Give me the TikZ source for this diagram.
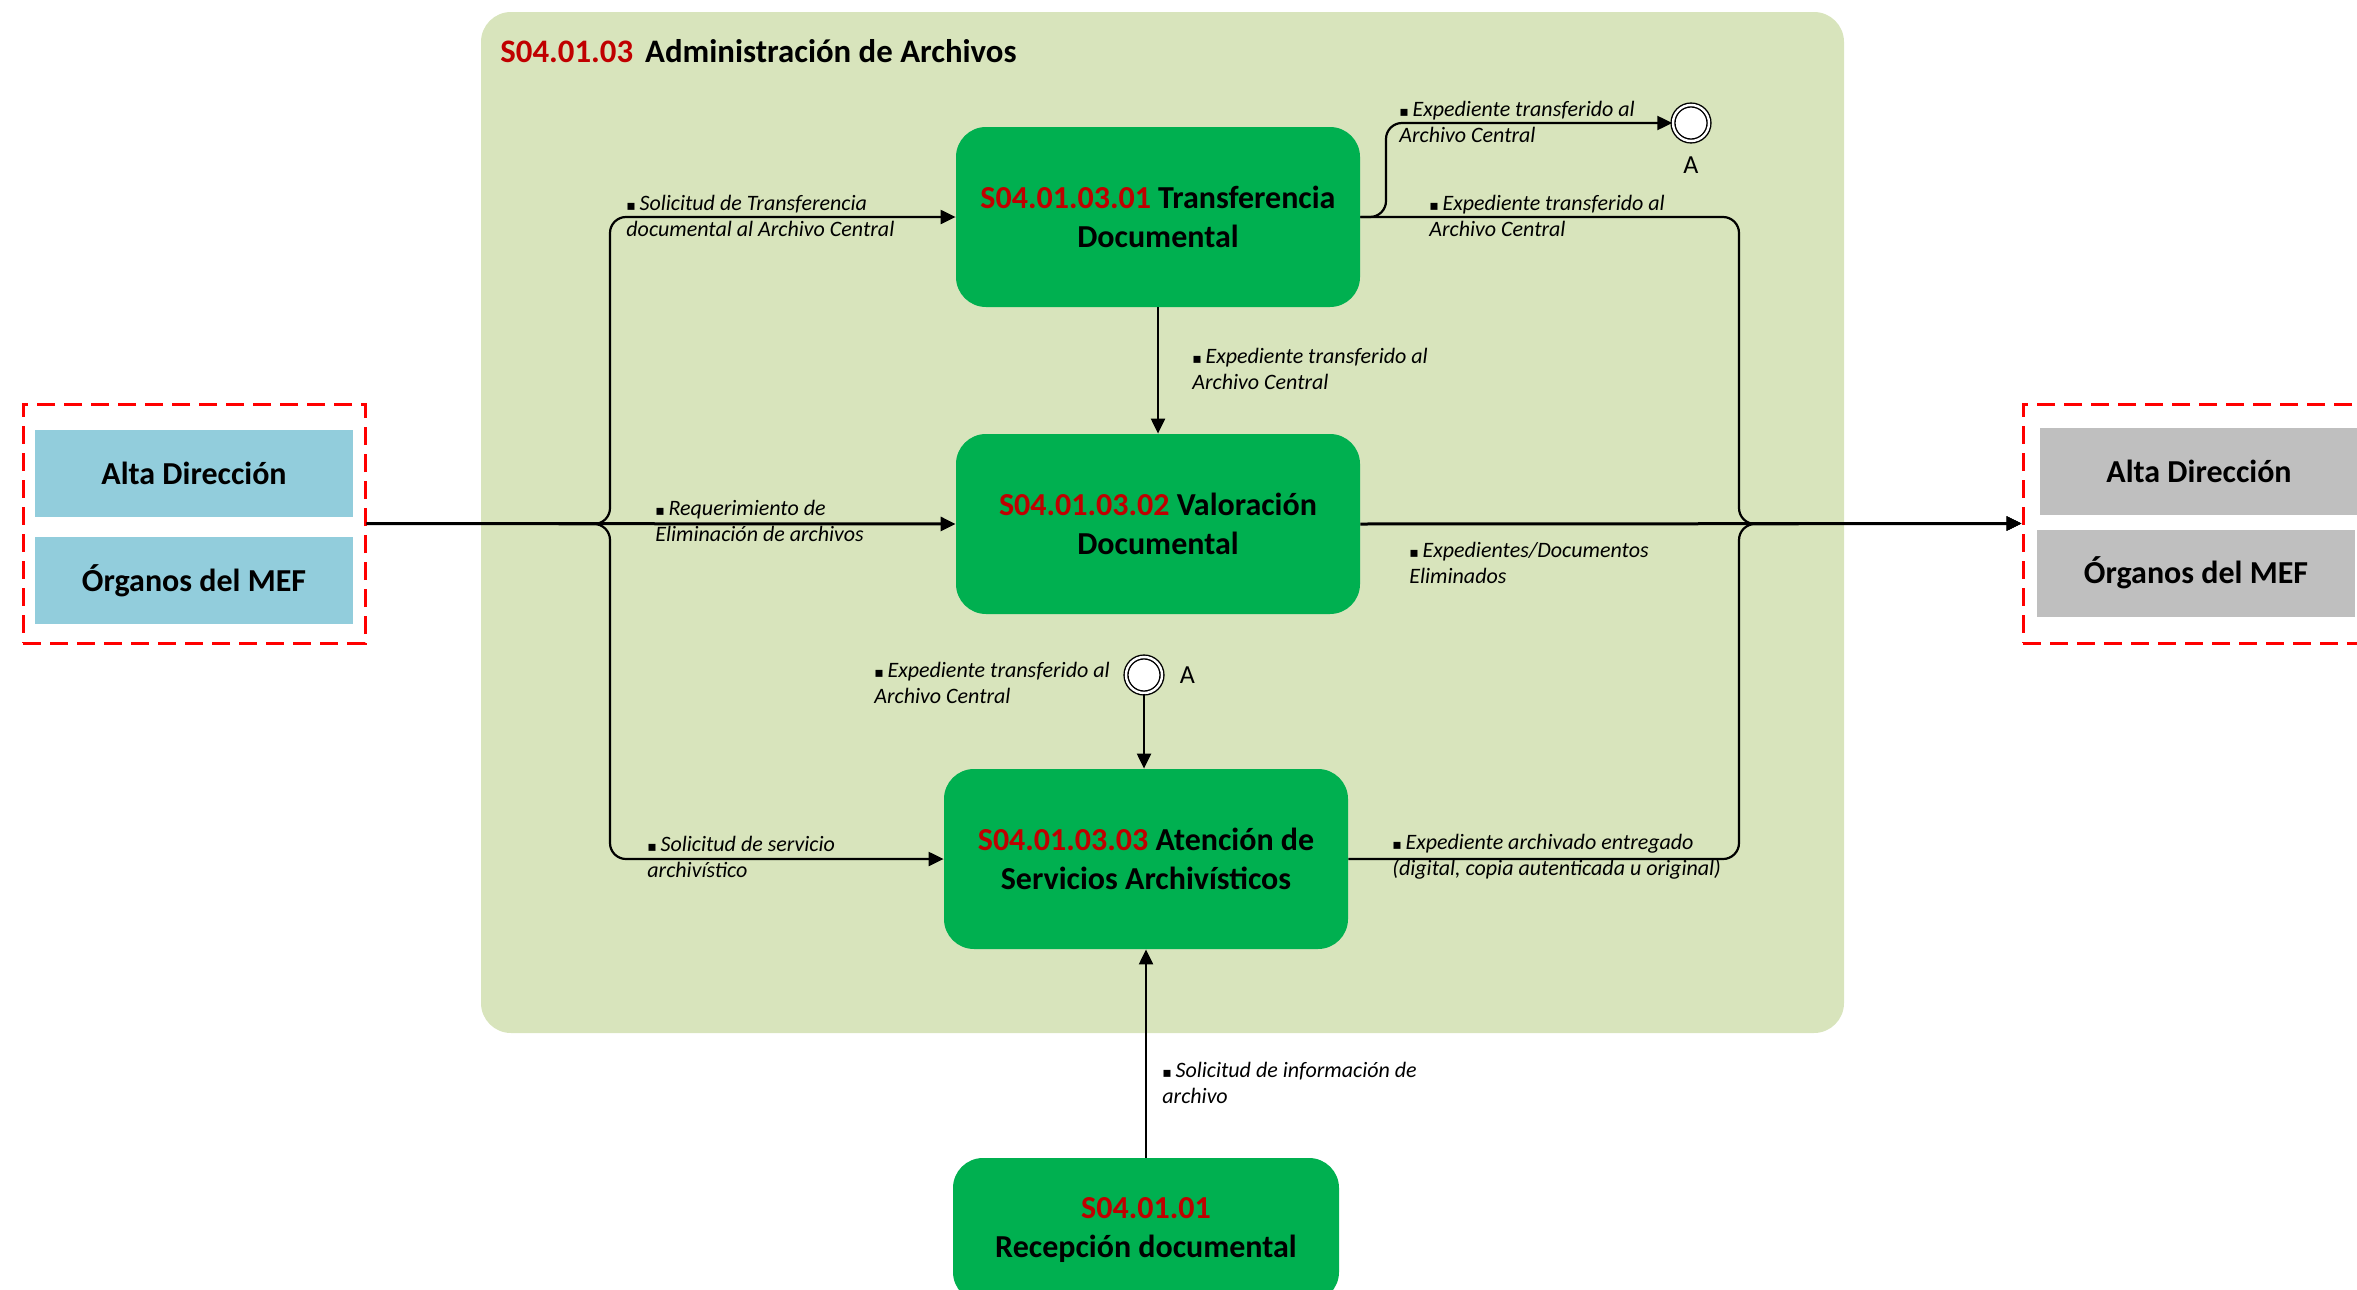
\documentclass[tikz,border=0pt]{standalone}
\usepackage{fontspec}
\setmainfont{Carlito}
\newfontfamily\symfont{DejaVu Sans}
\usetikzlibrary{arrows.meta,positioning,backgrounds}

\definecolor{procgreen}{HTML}{00B050}
\definecolor{areagreen}{HTML}{D8E4BC}
\definecolor{codered}{HTML}{C00000}
\definecolor{extblue}{HTML}{92CDDC}
\definecolor{extgray}{HTML}{BFBFBF}
\newcommand{\bul}{{\symfont\fontsize{7}{7}\selectfont ▪}\,}
\newcommand{\code}[1]{{\color{codered}#1}}

\begin{document}
\begin{tikzpicture}[
    x=0.5pt, y=-0.5pt,
    % process boxes
    proc/.style={
        rectangle,
        rounded corners=15pt,
        fill=procgreen,
        minimum width=202pt,
        minimum height=90pt,
        align=center,
        font=\fontsize{16}{19.5}\selectfont\bfseries
    },
    actor/.style={
        rectangle,
        minimum width=159pt,
        minimum height=43.5pt,
        font=\fontsize{16}{19}\selectfont\bfseries
    },
    extbox/.style={
        rectangle,
        draw=red,
        line width=1.5pt,
        dash pattern=on 9pt off 4.5pt,
        minimum width=171pt,
        minimum height=119.5pt
    },
    lbl/.style={
        anchor=west,
        align=left,
        inner sep=0pt,
        font=\fontsize{11}{13}\selectfont\itshape
    },
    link/.style={
        circle,
        draw,
        double,
        double distance=1.2pt,
        line width=0.7pt,
        fill=white,
        minimum size=18pt,
        inner sep=0pt
    },
    flow/.style={
        -{Triangle[length=7.5pt,width=7pt]},
        line width=1.1pt,
        rounded corners=8pt
    },
    mainflow/.style={
        flow,
        line width=1.5pt
    }
]
    \useasboundingbox (0,0) rectangle (2357,1290);
    \clip (0,0) rectangle (2357,1290);

    % Process area
    \node[lbl, font=\fontsize{16.4}{19}\selectfont\bfseries] (title) at (500,51)
        {\code{S04.01.03}\hspace{6pt}Administración de Archivos};

    % Processes
    \node[proc] (trans) at (1158,217) {\code{S04.01.03.01} Transferencia\\Documental};
    \node[proc] (valor) at (1158,524) {\code{S04.01.03.02} Valoración\\Documental};
    \node[proc] (atenc) at (1146,859) {\code{S04.01.03.03} Atención de\\Servicios Archivísticos};
    \node[proc, minimum width=193pt, minimum height=72pt] (recep) at (1146,1230)
        {\code{S04.01.01}\\Recepción documental};

    % Clients and receivers
    \node[extbox] (lft) at (194,523.5) {};
    \node[actor, fill=extblue] (lalta) at (194,473.5) {Alta Dirección};
    \node[actor, fill=extblue] (lorg) at (194,580.5) {Órganos del MEF};
    \node[extbox] (rgt) at (2194,523.5) {};
    \node[actor, fill=extgray] (ralta) at (2199,471.5) {Alta Dirección};
    \node[actor, fill=extgray] (rorg) at (2196,573) {Órganos del MEF};

    % Off-page links
    \node[link] (linkT) at (1691,123) {};
    \node[font=\fontsize{13}{15}\selectfont, below=4pt of linkT] (linkTname) {A};
    \node[link] (linkA) at (1144,675) {};
    \node[font=\fontsize{13}{15}\selectfont, right=5pt of linkA] (linkAname) {A};

    \begin{scope}[on background layer]
        \fill[areagreen, rounded corners=15pt] (481,12) rectangle (1844,1033);
    \end{scope}

    % Inputs
    \coordinate (split) at (610,524);
    \draw[mainflow] (lft.east) -- (valor.west);
    \draw[flow] (lft.east) -- (split) |- (trans.west);
    \draw[flow] (lft.east) -- (split) |- (atenc.west);
    \node[lbl] (inT) at (626,216) {\bul Solicitud de Transferencia\\documental al Archivo Central};
    \node[lbl] (inV) at (655,521) {\bul Requerimiento de\\Eliminación de archivos};
    \node[lbl] (inA) at (647,857) {\bul Solicitud de servicio\\archivístico};

    % Between processes
    \coordinate (tbend) at (1386,217);
    \draw[flow] (trans.east) -- (tbend) |- (linkT.west);
    \node[lbl] (outTA) at (1399,122) {\bul Expediente transferido al\\Archivo Central};
    \draw[flow] (trans.south) -- (valor.north);
    \node[lbl] (outTV) at (1192,369) {\bul Expediente transferido al\\Archivo Central};
    \draw[flow] (linkA.south) -- (linkA |- atenc.north);
    \node[lbl] (inAA) at (874,683) {\bul Expediente transferido al\\Archivo Central};
    \draw[flow] (recep.north) -- (atenc.south);
    \node[lbl] (inR) at (1162,1083) {\bul Solicitud de información de\\archivo};

    % Outputs
    \coordinate (merge) at (1739,524);
    \draw[mainflow] (valor.east) -- (rgt.west);
    \draw[flow] (trans.east) -| (merge) -- (rgt.west);
    \draw[flow] (atenc.east) -| (merge) -- (rgt.west);
    \node[lbl] (outT) at (1429,216) {\bul Expediente transferido al\\Archivo Central};
    \node[lbl] (outV) at (1409,563) {\bul Expedientes/Documentos\\Eliminados};
    \node[lbl] (outA) at (1392,857) {\bul Expediente archivado entregado\\(digital, copia autenticada u original)};
\end{tikzpicture}
\end{document}
